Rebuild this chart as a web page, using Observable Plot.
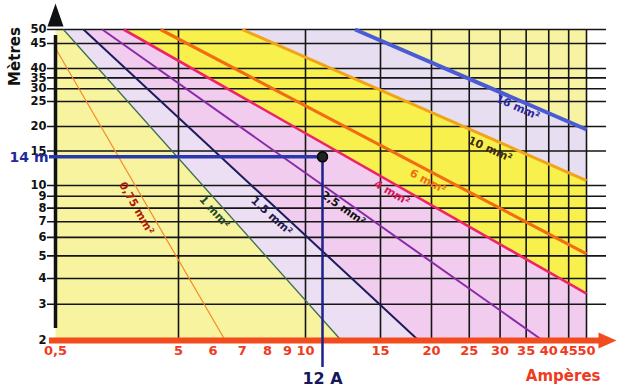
<!DOCTYPE html>
<html><head><meta charset="utf-8">
<script src="https://cdn.jsdelivr.net/npm/d3@7"></script>
<script src="https://cdn.jsdelivr.net/npm/@observablehq/plot@0.6"></script>
<style>body{margin:0;background:#fff}</style>
</head><body><div id="chart"></div>
<script>
// Cable sections (mm²) and their limit lines (Ampères, Mètres)
const sections    = ["0,75", "1", "1,5", "2,5", "4", "6", "10", "16"];
const startAmps   = [0.5, 0.58, 0.845, 1.2, 1.79, 3.57, 7.0, 13.6];
const startMetres = [44, 50, 50, 50, 50, 50, 50, 50];
const endAmps     = [6.4, 12.9, 18.6, 38.6, 50, 50, 50, 50];
const endMetres   = [2, 2, 2, 2, 3.38, 5.1, 10.6, 19.3];
// where each section label sits (data coordinates) and its slant
const labelAmps   = [2.28, 6.05, 8.2, 13.0, 16.0, 19.6, 28.3, 33.3];
const labelMetres = [8.0, 7.7, 7.4, 8.0, 9.3, 10.5, 15.3, 23.7];
const labelAngles = [60, 48, 42, 35, 30, 28, 24, 24];

const ampTicks   = [0.5, 5, 6, 7, 8, 9, 10, 15, 20, 25, 30, 35, 40, 45, 50];
const ampGrid    = [5, 10, 15, 20, 25, 30, 35, 40, 45, 50];
const metreTicks = [2, 3, 4, 5, 6, 7, 8, 9, 10, 15, 20, 25, 30, 35, 40, 45, 50];
const exampleAmps = [12];
const exampleMetres = [14];

// styles
const lineStyle = {
  "0,75": {stroke: "#f58a28", width: 1.2, text: "#b01a08"},
  "1":    {stroke: "#3c6e4e", width: 1.3, text: "#1f4a2e"},
  "1,5":  {stroke: "#1c1c5c", width: 2,   text: "#1a1a50"},
  "2,5":  {stroke: "#8a2aa8", width: 2,   text: "#111111"},
  "4":    {stroke: "#ee2266", width: 2.6, text: "#d41654"},
  "6":    {stroke: "#f26c12", width: 3.2, text: "#f26c12"},
  "10":   {stroke: "#f2a418", width: 3,   text: "#3a2a10"},
  "16":   {stroke: "#4a5cd4", width: 4,   text: "#2a2a98"}
};
const regionFill = {"1": "#ecdff4", "1,5": "#f1ccef", "4": "#f8f04c", "10": "#e7def2", "16": "#f8f3a2"};
const baseFill = "#f7f39e";

const xMin = d3.min(ampTicks), xMax = d3.max(ampTicks);
const yMin = d3.min(metreTicks), yMax = d3.max(metreTicks);

const lines = sections.map((s, i) => ({s, x1: startAmps[i], y1: startMetres[i], x2: endAmps[i], y2: endMetres[i]}));
const labels = sections.map((s, i) => ({s, x: labelAmps[i], y: labelMetres[i], a: labelAngles[i], t: s + " mm²"}));

const basePoly = [[xMin, yMin], [xMin, yMax], [xMax, yMax], [xMax, yMin]];
const regionMarks = [
  Plot.line(basePoly, {x: d => d[0], y: d => d[1], fill: baseFill, stroke: "none"}),
  ...lines.filter(l => regionFill[l.s]).map(l =>
    Plot.line([[l.x1, l.y1], [xMax, yMax], [xMax, yMin], [l.x2, l.y2]],
      {x: d => d[0], y: d => d[1], fill: regionFill[l.s], stroke: "none"}))
];

const arrowRight = {draw(ctx) { ctx.moveTo(10, 0); ctx.lineTo(-8, -8); ctx.lineTo(-8, 8); ctx.closePath(); }};
const arrowUp = {draw(ctx) { ctx.moveTo(0, -12); ctx.lineTo(-8, 11); ctx.lineTo(8, 11); ctx.closePath(); }};

const chart = Plot.plot({
  width: 628, height: 389,
  marginLeft: 55, marginRight: 42, marginTop: 29, marginBottom: 49,
  style: {fontFamily: "DejaVu Sans", background: "white"},
  x: {type: "log", domain: [0.5, 5, 8, 10, 12, 15, 20, 50], range: [55, 178, 267, 305, 322, 380, 431, 586], axis: null},
  y: {type: "log", domain: [2, 4, 10, 20, 25, 40, 45, 50], range: [340, 278, 185, 126, 101, 68, 43, 29], axis: null},
  color: {type: "identity"},
  marks: [
    ...regionMarks,
    // grid
    Plot.ruleX(ampGrid, {x: d => d, y1: yMin, y2: yMax, stroke: "#151515", strokeWidth: 1.6}),
    Plot.ruleY(metreTicks.filter(v => v > yMin), {y: d => d, x1: xMin, x2: xMax, insetLeft: -8, insetRight: -20, stroke: "#151515", strokeWidth: 1.6}),
    // cable lines
    ...lines.map(l => Plot.link([l], {x1: "x1", y1: "y1", x2: "x2", y2: "y2", stroke: lineStyle[l.s].stroke, strokeWidth: lineStyle[l.s].width})),
    // section labels
    ...labels.map(l => Plot.text([l], {x: "x", y: "y", text: "t", rotate: l.a, fill: lineStyle[l.s].text, fontSize: 11, fontWeight: "bold"})),
    // y axis
    Plot.ruleX([xMin], {x: d => d, y1: yMin, y2: yMax, insetTop: -12, insetBottom: -6, stroke: "#111", strokeWidth: 3.5}),
    Plot.dot([0], {x: () => xMin, y: () => yMax, symbol: arrowUp, dy: -14, fill: "#111", stroke: "none"}),
    // x axis
    Plot.ruleY([yMin], {y: d => d, x1: xMin, x2: xMax, insetLeft: -6, insetRight: -14, stroke: "#f24c1e", strokeWidth: 6}),
    Plot.dot([0], {x: () => xMax, y: () => yMin, symbol: arrowRight, dx: 20, fill: "#f24c1e", stroke: "none"}),
    // tick labels
    Plot.text(metreTicks, {y: d => d, frameAnchor: "left", text: d => String(d), textAnchor: "end", dx: -9, fontSize: 11.5, fontWeight: "bold", fill: "#111"}),
    Plot.text(ampTicks, {x: d => d, frameAnchor: "bottom", dy: 14, text: d => String(d).replace(".", ","), fontSize: 13, fontWeight: "bold", fill: "#f03a1e"}),
    // axis titles
    Plot.text(["Mètres"], {frameAnchor: "top-left", text: d => d, rotate: -90, textAnchor: "middle", lineAnchor: "middle", dx: -40, dy: 27, fontSize: 15, fontWeight: "bold", fill: "#111"}),
    Plot.text(["Ampères"], {frameAnchor: "bottom-right", text: d => d, textAnchor: "end", lineAnchor: "middle", dx: 14, dy: 36, fontSize: 15, fontWeight: "bold", fill: "#f03a1e"}),
    // example reading
    Plot.ruleY(exampleMetres, {y: d => d, x1: xMin, x2: exampleAmps[0], insetLeft: -6, stroke: "#2a38b0", strokeWidth: 3.5}),
    Plot.ruleX(exampleAmps, {x: d => d, y1: exampleMetres[0], y2: yMin, insetBottom: -27, stroke: "#1c2288", strokeWidth: 2.5}),
    Plot.dot(exampleAmps, {x: d => d, y: () => exampleMetres[0], r: 5, fill: "#222", stroke: "#000"}),
    Plot.text(exampleMetres, {y: d => d, frameAnchor: "left", text: d => d + " m", textAnchor: "end", dx: -7, dy: 1, fontSize: 14, fontWeight: "bold", fill: "#1e2a9c"}),
    Plot.text(exampleAmps, {x: d => d, frameAnchor: "bottom", text: d => d + " A", lineAnchor: "middle", dy: 38, fontSize: 16, fontWeight: "bold", fill: "#16185a"})
  ]
});
document.getElementById("chart").appendChild(chart);
</script>
</body></html>
